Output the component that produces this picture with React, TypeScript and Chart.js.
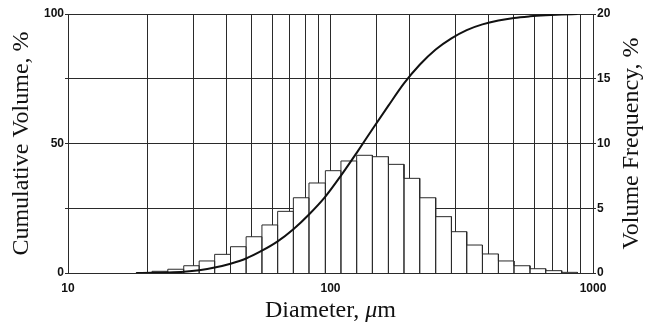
import { useEffect, useRef } from "react";
import { Chart, registerables } from "chart.js";

Chart.register(...registerables);

// Size-class boundaries in µm; bar i spans binEdges[i]..binEdges[i + 1]
const binEdges = [
  18.2, 20.9, 24.0, 27.6, 31.6, 36.2, 41.6, 47.7, 54.8, 62.9, 72.2, 82.8, 95.6, 109.6, 125.8,
  144.4, 166.2, 190.5, 218.7, 251.6, 288.9, 330.3, 379.1, 436.2, 500.0, 575.4, 660.5, 760.0, 872.2,
];

// Volume frequency of each size class, %
const volumeFrequency = [
  0.03, 0.13, 0.29, 0.56, 0.93, 1.44, 2.03, 2.8, 3.71, 4.76, 5.81, 6.95, 7.9, 8.65,
  9.09, 8.98, 8.39, 7.31, 5.81, 4.35, 3.19, 2.16, 1.47, 0.93, 0.56, 0.33, 0.18, 0.05,
];

// Cumulative volume undersize at each class boundary, %
const cumulativeVolume = [
  0, 0.05, 0.2, 0.5, 1.1, 2.1, 3.6, 5.6, 8.6, 12.2, 16.9, 22.6, 29.5, 37.6, 46.4,
  55.5, 64.6, 73.2, 80.4, 86.3, 90.6, 93.8, 96.0, 97.5, 98.5, 99.1, 99.5, 99.8, 100,
];

const diameterTickLabels = [10, 100, 1000];
const cumulativeTickLabels = [0, 50, 100];
const frequencyTickLabels = [0, 5, 10, 15, 20];

const INK = "#111";
const GRID = "#2a2a2a";
const TICK_FONT = { family: '"Liberation Sans", Arial, sans-serif', size: 12, weight: "bold" as const };
const TITLE_FONT = '24px "Liberation Serif", "Times New Roman", serif';

// Histogram outline: each class rises from the baseline, runs across its top and drops back
function histogramOutline() {
  const pts: { x: number; y: number }[] = [];
  volumeFrequency.forEach((h, i) => {
    const a = binEdges[i];
    const b = binEdges[i + 1];
    pts.push({ x: a, y: 0 }, { x: a, y: h }, { x: b, y: h }, { x: b, y: 0 });
  });
  return pts;
}

// Axis titles in serif type; both vertical titles read bottom to top
const axisTitles = {
  id: "axisTitles",
  afterDraw(chart: Chart) {
    const { ctx, chartArea } = chart;
    const midY = (chartArea.top + chartArea.bottom) / 2;
    const midX = (chartArea.left + chartArea.right) / 2;
    ctx.save();
    ctx.fillStyle = INK;
    ctx.font = TITLE_FONT;
    ctx.textBaseline = "alphabetic";
    ctx.textAlign = "center";

    ctx.save();
    ctx.translate(chartArea.left - 40, midY);
    ctx.rotate(-Math.PI / 2);
    ctx.fillText("Cumulative Volume, %", 0, 0);
    ctx.restore();

    ctx.save();
    ctx.translate(chartArea.right + 45, midY);
    ctx.rotate(-Math.PI / 2);
    ctx.fillText("Volume Frequency, %", 0, 0);
    ctx.restore();

    // "Diameter, μm" with an italic μ
    const head = "Diameter, ";
    const mu = "μ";
    const tail = "m";
    ctx.textAlign = "left";
    ctx.font = TITLE_FONT;
    const wHead = ctx.measureText(head).width;
    const wTail = ctx.measureText(tail).width;
    ctx.font = "italic " + TITLE_FONT;
    const wMu = ctx.measureText(mu).width;
    let x = midX - (wHead + wMu + wTail) / 2;
    const y = chartArea.bottom + 44;
    ctx.font = TITLE_FONT;
    ctx.fillText(head, x, y);
    x += wHead;
    ctx.font = "italic " + TITLE_FONT;
    ctx.fillText(mu, x, y);
    x += wMu;
    ctx.font = TITLE_FONT;
    ctx.fillText(tail, x, y);
    ctx.restore();
  },
};

function ParticleSizeChart() {
  const canvasRef = useRef<HTMLCanvasElement | null>(null);

  useEffect(() => {
    document.body.style.margin = "0";
    const canvas = canvasRef.current;
    if (!canvas) return;

    const chart = new Chart(canvas, {
      type: "line",
      data: {
        datasets: [
          {
            label: "Cumulative Volume",
            data: binEdges.map((d, i) => ({ x: d, y: cumulativeVolume[i] })),
            yAxisID: "yL",
            borderColor: INK,
            borderWidth: 2,
            pointRadius: 0,
            cubicInterpolationMode: "monotone",
            fill: false,
            order: 0,
          },
          {
            label: "Volume Frequency",
            data: histogramOutline(),
            yAxisID: "yR",
            borderColor: GRID,
            borderWidth: 1,
            backgroundColor: "#ffffff",
            pointRadius: 0,
            tension: 0,
            fill: "origin",
            order: 1,
          },
        ],
      },
      options: {
        animation: false,
        responsive: true,
        maintainAspectRatio: false,
        devicePixelRatio: 1,
        layout: { padding: { top: 14, left: 0, right: 0, bottom: 0 } },
        plugins: {
          legend: { display: false },
          tooltip: { enabled: false },
        },
        scales: {
          x: {
            type: "logarithmic",
            position: "bottom",
            min: 10,
            max: 1000,
            afterFit(scale) {
              scale.height = 56;
            },
            grid: { color: GRID, lineWidth: 1, drawTicks: false },
            border: { color: GRID, width: 1 },
            ticks: {
              autoSkip: false,
              maxRotation: 0,
              padding: 8,
              color: INK,
              font: TICK_FONT,
              callback: (v) => (diameterTickLabels.includes(Number(v)) ? String(v) : ""),
            },
          },
          yL: {
            type: "linear",
            position: "left",
            min: 0,
            max: 100,
            afterFit(scale) {
              scale.width = 68;
            },
            grid: { color: GRID, lineWidth: 1, tickLength: 3 },
            border: { color: GRID, width: 1 },
            ticks: {
              stepSize: 25,
              padding: 1,
              color: INK,
              font: TICK_FONT,
              callback: (v) => (cumulativeTickLabels.includes(Number(v)) ? String(v) : ""),
            },
          },
          yR: {
            type: "linear",
            position: "right",
            min: 0,
            max: 20,
            afterFit(scale) {
              scale.width = 52;
            },
            grid: { drawOnChartArea: false, color: GRID, lineWidth: 1, tickLength: 3 },
            border: { color: GRID, width: 1 },
            ticks: {
              stepSize: 5,
              padding: 1,
              color: INK,
              font: TICK_FONT,
              callback: (v) => (frequencyTickLabels.includes(Number(v)) ? String(v) : ""),
            },
          },
        },
      },
      plugins: [axisTitles],
    });

    return () => chart.destroy();
  }, []);

  return (
    <div style={{ position: "relative", width: 645, height: 329 }}>
      <canvas ref={canvasRef} />
    </div>
  );
}

export default function App() {
  return <ParticleSizeChart />;
}
